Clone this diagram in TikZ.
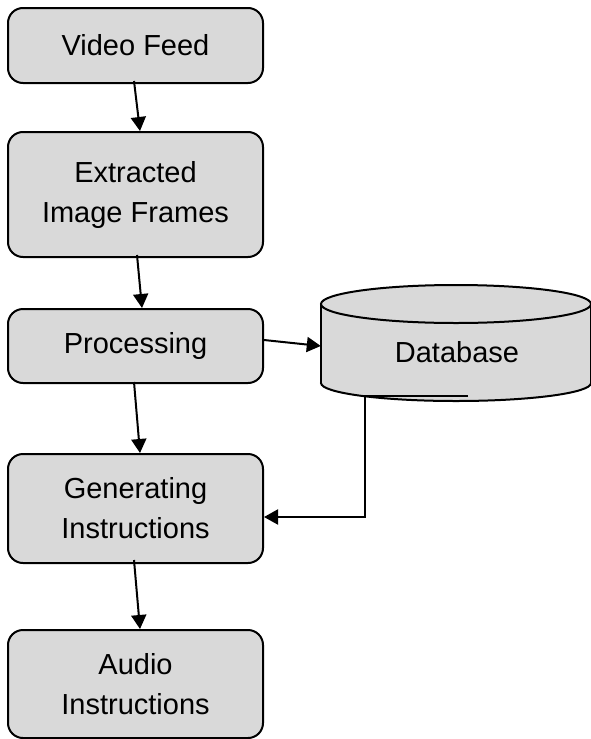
\documentclass[tikz,border=0pt]{standalone}
\usepackage{fontspec}
\setmainfont{Liberation Sans}
\usetikzlibrary{arrows.meta}
\definecolor{boxgray}{RGB}{217,217,217}
\begin{document}
\begin{tikzpicture}[x=1pt,y=-1pt,
  box/.style={draw=black,line width=2pt,fill=boxgray,rounded corners=15pt,
    minimum width=255pt,align=center,inner sep=0pt,
    font=\fontsize{29}{40}\selectfont},
  arr/.style={line width=2pt,-{Triangle[length=14pt,width=15pt]}},
  dbshape/.style={draw=black,line width=2pt,fill=boxgray}]
\useasboundingbox (0,0) rectangle (590,739);
% boxes
\node[box,minimum height=75pt]  (vf) at (135.5,45.5) {Video Feed};
\node[box,minimum height=125pt] (ex) at (135.5,194.5) {Extracted\\Image Frames};
\node[box,minimum height=74pt]  (pr) at (135.5,346) {Processing};
\node[box,minimum height=109pt] (gi) at (135.5,508.5) {Generating\\Instructions};
\node[box,minimum height=108pt] (au) at (135.5,684) {Audio\\Instructions};
% database cylinder
\fill[boxgray] (456,383) ellipse [x radius=135pt, y radius=18pt];
\draw[line width=2pt] (456,383) ellipse [x radius=135pt, y radius=18pt];
\fill[boxgray] (321,304) rectangle (591,383);
\draw[line width=2pt] (321,304) -- (321,383) (591,304) -- (591,383);
\draw[dbshape] (456,304) ellipse [x radius=135pt, y radius=19pt];
\node[minimum width=270pt,minimum height=116pt,inner sep=0pt] (db) at (456,343) {};
\node[font=\fontsize{29}{40}\selectfont,inner sep=0pt] (dbt) at (457,352) {Database};
% connectors
\draw[arr] ([xshift=-1.5pt,yshift=3pt]vf.south) -- ([xshift=4.5pt]ex.north);
\draw[arr] ([xshift=1.5pt,yshift=3pt]ex.south) -- ([xshift=6.5pt]pr.north);
\draw[arr] ([xshift=-1.5pt,yshift=2pt]pr.south) -- ([xshift=4.5pt]gi.north);
\draw[arr] ([xshift=-1.5pt,yshift=4pt]gi.south) -- ([xshift=4.5pt]au.north);
\draw[arr] ([yshift=6pt]pr.east) -- ([yshift=-3pt]db.west);
\draw[arr] ([xshift=12pt,yshift=5pt]db.south) -- ([xshift=-91pt,yshift=5pt]db.south) |- ([yshift=-8.5pt]gi.east);
\end{tikzpicture}
\end{document}
